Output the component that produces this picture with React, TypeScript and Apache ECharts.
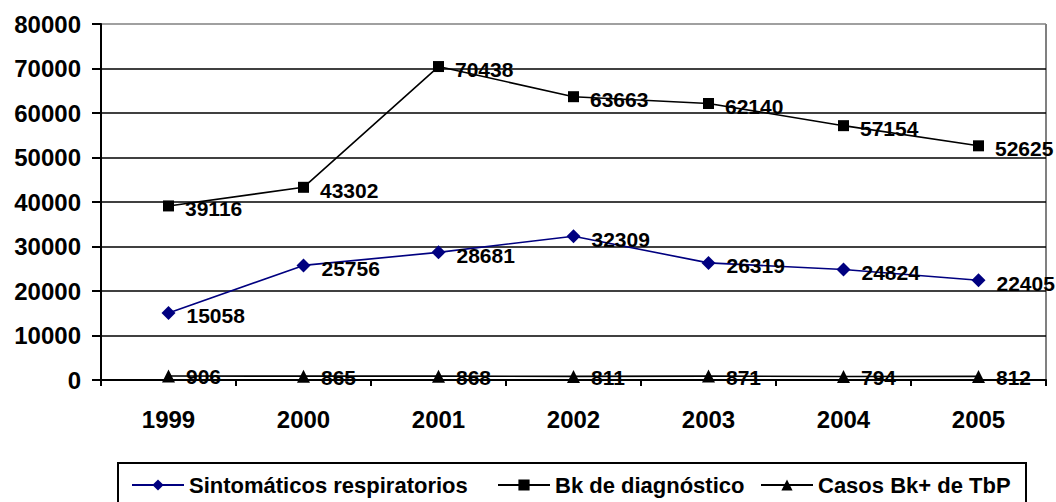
import React, { useEffect, useRef } from "react";
import * as echarts from "echarts";

const years = ["1999", "2000", "2001", "2002", "2003", "2004", "2005"];
const sintomaticos = [15058, 25756, 28681, 32309, 26319, 24824, 22405];
const bkDiagnostico = [39116, 43302, 70438, 63663, 62140, 57154, 52625];
const casosBk = [906, 865, 868, 811, 871, 794, 812];
const seriesNames = ["Sintomáticos respiratorios", "Bk de diagnóstico", "Casos Bk+ de TbP"];

const FONT = "'Liberation Sans', Arial, sans-serif";

export default function App() {
  const ref = useRef<HTMLDivElement>(null);
  useEffect(() => {
    document.body.style.margin = "0";
    const chart = echarts.init(ref.current!, null, { renderer: "svg" });
    const label = {
      show: true,
      position: "right" as const,
      distance: 11,
      offset: [0, 3],
      color: "#000",
      fontFamily: FONT,
      fontWeight: "bold" as const,
      fontSize: 21,
    };
    const legendBase = {
      top: 469,
      itemWidth: 52,
      itemHeight: 14,
      textStyle: { color: "#000", fontFamily: FONT, fontWeight: "bold", fontSize: 22 },
    };
    chart.setOption({
      animation: false,
      backgroundColor: "#fff",
      grid: { left: 101, top: 24, right: 10, bottom: 122, containLabel: false },
      xAxis: {
        type: "category",
        data: years,
        boundaryGap: true,
        axisLine: { lineStyle: { color: "#000", width: 2 } },
        axisTick: { show: true, length: 6, lineStyle: { color: "#000", width: 2 } },
        axisLabel: { color: "#000", fontFamily: FONT, fontWeight: "bold", fontSize: 24, margin: 27 },
        z: 5,
      },
      yAxis: {
        type: "value",
        min: 0,
        max: 80000,
        interval: 10000,
        axisLine: { show: true, lineStyle: { color: "#000", width: 2 } },
        axisTick: { show: true, length: 9, lineStyle: { color: "#000", width: 2 } },
        axisLabel: {
          color: "#000",
          fontFamily: FONT,
          fontWeight: "bold",
          fontSize: 24,
          margin: 20,
          formatter: (v: number) => String(v),
        },
        splitLine: {
          show: true,
          lineStyle: {
            color: ["#000", "#000", "#000", "#000", "#000", "#000", "#000", "#000", "#808080"],
            width: 1.6,
          },
        },
      },
      legend: [
        { ...legendBase, left: 126, data: [seriesNames[0]] },
        { ...legendBase, left: 492, data: [seriesNames[1]] },
        { ...legendBase, left: 755, data: [seriesNames[2]] },
      ],
      graphic: [
        {
          type: "rect",
          shape: { x: 118, y: 463, width: 908, height: 60 },
          style: { fill: "none", stroke: "#000", lineWidth: 2 },
          z: 0,
        },
        {
          type: "line",
          shape: { x1: 1046, y1: 24, x2: 1046, y2: 380 },
          style: { stroke: "#808080", lineWidth: 2 },
          z: 0,
        },
      ],
      series: [
        {
          name: seriesNames[0],
          type: "line",
          data: sintomaticos,
          symbol: "diamond",
          symbolSize: 14,
          color: "#000080",
          lineStyle: { color: "#000080", width: 1.6 },
          itemStyle: { color: "#000080" },
          label,
        },
        {
          name: seriesNames[1],
          type: "line",
          data: bkDiagnostico,
          symbol: "rect",
          symbolSize: 11,
          color: "#000",
          lineStyle: { color: "#000", width: 1.6 },
          itemStyle: { color: "#000" },
          label,
        },
        {
          name: seriesNames[2],
          type: "line",
          data: casosBk,
          symbol: "triangle",
          symbolSize: 13,
          color: "#000",
          lineStyle: { color: "#000", width: 1.6 },
          itemStyle: { color: "#000" },
          label: { ...label, offset: [0, 1] },
        },
      ],
    });
    return () => chart.dispose();
  }, []);
  return <div ref={ref} style={{ width: 1056, height: 502 }} />;
}
